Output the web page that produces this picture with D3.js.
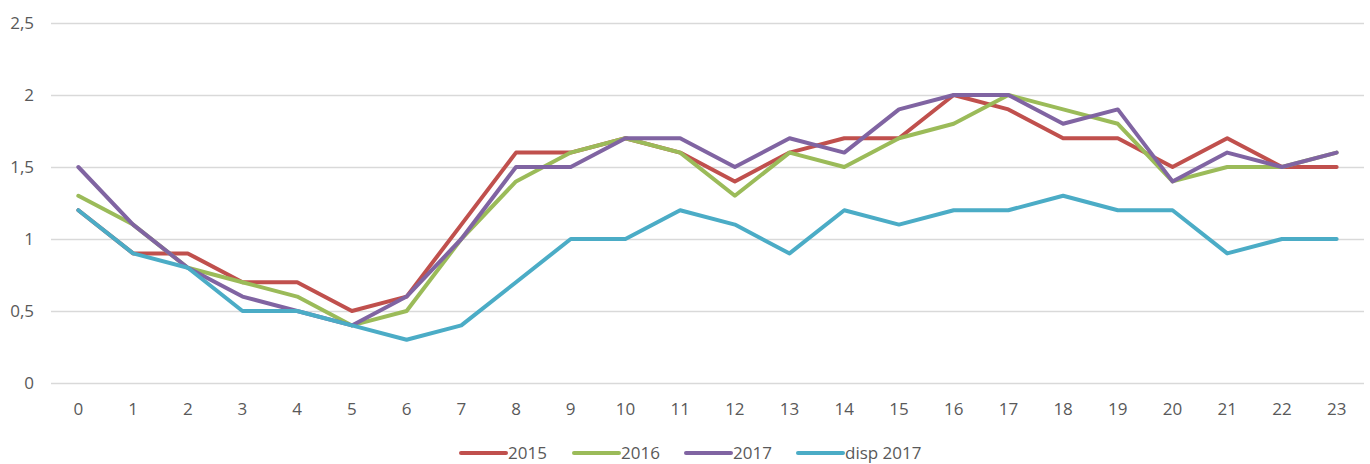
<!DOCTYPE html>
<html>
<head>
<meta charset="utf-8">
<script src="https://cdn.jsdelivr.net/npm/d3@7"></script>
<style>
  body { margin: 0; background: #fff; }
  text { font-family: "Open Sans", "Noto Sans", sans-serif; fill: #595959; }
</style>
</head>
<body>
<script>
const width = 1370;
const height = 464;

// hours on the x axis
const hours = d3.range(0, 24).map(String);
const yTicks = [0, 0.5, 1, 1.5, 2, 2.5];

// series values
const s2015 = [1.2, 0.9, 0.9, 0.7, 0.7, 0.5, 0.6, 1.1, 1.6, 1.6, 1.7, 1.6, 1.4, 1.6, 1.7, 1.7, 2.0, 1.9, 1.7, 1.7, 1.5, 1.7, 1.5, 1.5];
const s2016 = [1.3, 1.1, 0.8, 0.7, 0.6, 0.4, 0.5, 1.0, 1.4, 1.6, 1.7, 1.6, 1.3, 1.6, 1.5, 1.7, 1.8, 2.0, 1.9, 1.8, 1.4, 1.5, 1.5, 1.6];
const s2017 = [1.5, 1.1, 0.8, 0.6, 0.5, 0.4, 0.6, 1.0, 1.5, 1.5, 1.7, 1.7, 1.5, 1.7, 1.6, 1.9, 2.0, 2.0, 1.8, 1.9, 1.4, 1.6, 1.5, 1.6];
const disp2017 = [1.2, 0.9, 0.8, 0.5, 0.5, 0.4, 0.3, 0.4, 0.7, 1.0, 1.0, 1.2, 1.1, 0.9, 1.2, 1.1, 1.2, 1.2, 1.3, 1.2, 1.2, 0.9, 1.0, 1.0];

const seriesNames = ["2015", "2016", "2017", "disp 2017"];
const seriesValues = [s2015, s2016, s2017, disp2017];
const colors = ["#c0504d", "#9bbb59", "#8064a2", "#4bacc6"];

const svg = d3.select("body").append("svg")
    .attr("width", width)
    .attr("height", height);

const x = d3.scaleBand()
    .domain(hours)
    .range([51, 1364]);

const y = d3.scaleLinear()
    .domain([0, 2.5])
    .range([383, 23]);

//gridlines
svg.append("g")
    .selectAll("line")
    .data(yTicks)
    .join("line")
    .attr("x1", 51)
    .attr("x2", 1364)
    .attr("y1", d => Math.round(y(d)) + 0.5)
    .attr("y2", d => Math.round(y(d)) + 0.5)
    .attr("stroke", "#d9d9d9")
    .attr("stroke-width", 1.3);

//y labels
const fmt = d => String(d).replace(".", ",");
svg.append("g")
    .selectAll("text")
    .data(yTicks)
    .join("text")
    .attr("x", 34)
    .attr("y", d => y(d))
    .attr("dy", "0.35em")
    .attr("text-anchor", "end")
    .style("font-size", "17px")
    .text(fmt);

//x labels
svg.append("g")
    .selectAll("text")
    .data(hours)
    .join("text")
    .attr("x", d => x(d) + x.bandwidth() / 2)
    .attr("y", 409)
    .attr("dy", "0.35em")
    .attr("text-anchor", "middle")
    .style("font-size", "17px")
    .text(d => d);

//lines
const line = d3.line()
    .x((d, i) => x(hours[i]) + x.bandwidth() / 2)
    .y(d => y(d));

svg.append("g")
    .selectAll("path")
    .data(seriesValues)
    .join("path")
    .attr("d", line)
    .attr("fill", "none")
    .attr("stroke", (d, i) => colors[i])
    .attr("stroke-width", 4)
    .attr("stroke-linejoin", "round")
    .attr("stroke-linecap", "round");

//legend
const legendX = [461, 574, 686, 798];
const legend = svg.append("g")
    .selectAll("g")
    .data(seriesNames)
    .join("g")
    .attr("transform", (d, i) => `translate(${legendX[i]}, 453)`);

legend.append("line")
    .attr("x1", 0)
    .attr("x2", 45)
    .attr("stroke", (d, i) => colors[i])
    .attr("stroke-width", 4)
    .attr("stroke-linecap", "round");

legend.append("text")
    .attr("x", 47)
    .attr("dy", "0.35em")
    .style("font-size", "17px")
    .text(d => d);
</script>
</body>
</html>
